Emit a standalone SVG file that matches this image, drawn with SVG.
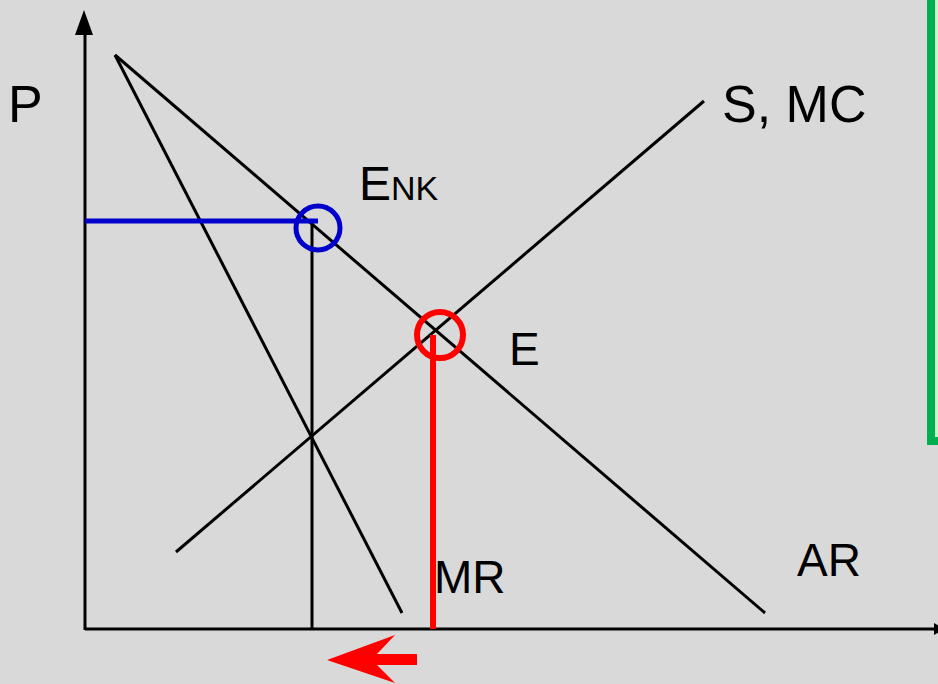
<svg xmlns="http://www.w3.org/2000/svg" width="938" height="684" viewBox="0 0 938 684">
<style>
.ln{stroke:#000;stroke-width:3;fill:none}
.t{font-family:"Liberation Sans",Arial,sans-serif;fill:#000}
</style>
<rect width="938" height="684" fill="#d9d9d9"/>
<rect x="931" y="-10" width="20" height="451" fill="#ccffcc" stroke="#00b050" stroke-width="8"/>
<g id="axes">
<line class="ln" x1="85" y1="630" x2="85" y2="30"/>
<polygon points="84,10 75,35 93,35" fill="#000"/>
<line class="ln" x1="85" y1="629" x2="935" y2="629"/>
<polygon points="945,629 934,623 934,635" fill="#000"/>
</g>
<g id="connectors">
<line class="ln" x1="115" y1="55" x2="765" y2="613"/>
<line class="ln" x1="115" y1="55" x2="402" y2="613"/>
<line class="ln" x1="176" y1="552" x2="704" y2="101"/>
<line class="ln" x1="312" y1="222" x2="312" y2="629"/>
<line x1="85" y1="221" x2="318" y2="221" stroke="#0000cc" stroke-width="5"/>
<line x1="433" y1="335" x2="433" y2="629" stroke="#ff0000" stroke-width="6"/>
</g>
<g id="enk"><circle cx="318" cy="228" r="22" fill="none" stroke="#0000cc" stroke-width="5"/></g>
<g id="e"><circle cx="440" cy="335" r="23" fill="none" stroke="#ff0000" stroke-width="6"/></g>
<g id="arrow"><polygon points="327,660 395,635 377,654 417,654 417,665 377,665 395,683" fill="#ff0000"/></g>
<g id="labels">
<text class="t" x="8" y="122" font-size="52">P</text>
<text class="t" x="722" y="122" font-size="52">S, MC</text>
<text class="t" x="359" y="200" font-size="48">E<tspan font-size="34">NK</tspan></text>
<text class="t" x="509" y="365" font-size="46">E</text>
<text class="t" x="434" y="593" font-size="46">MR</text>
<text class="t" x="797" y="576" font-size="46">AR</text>
</g>
</svg>
